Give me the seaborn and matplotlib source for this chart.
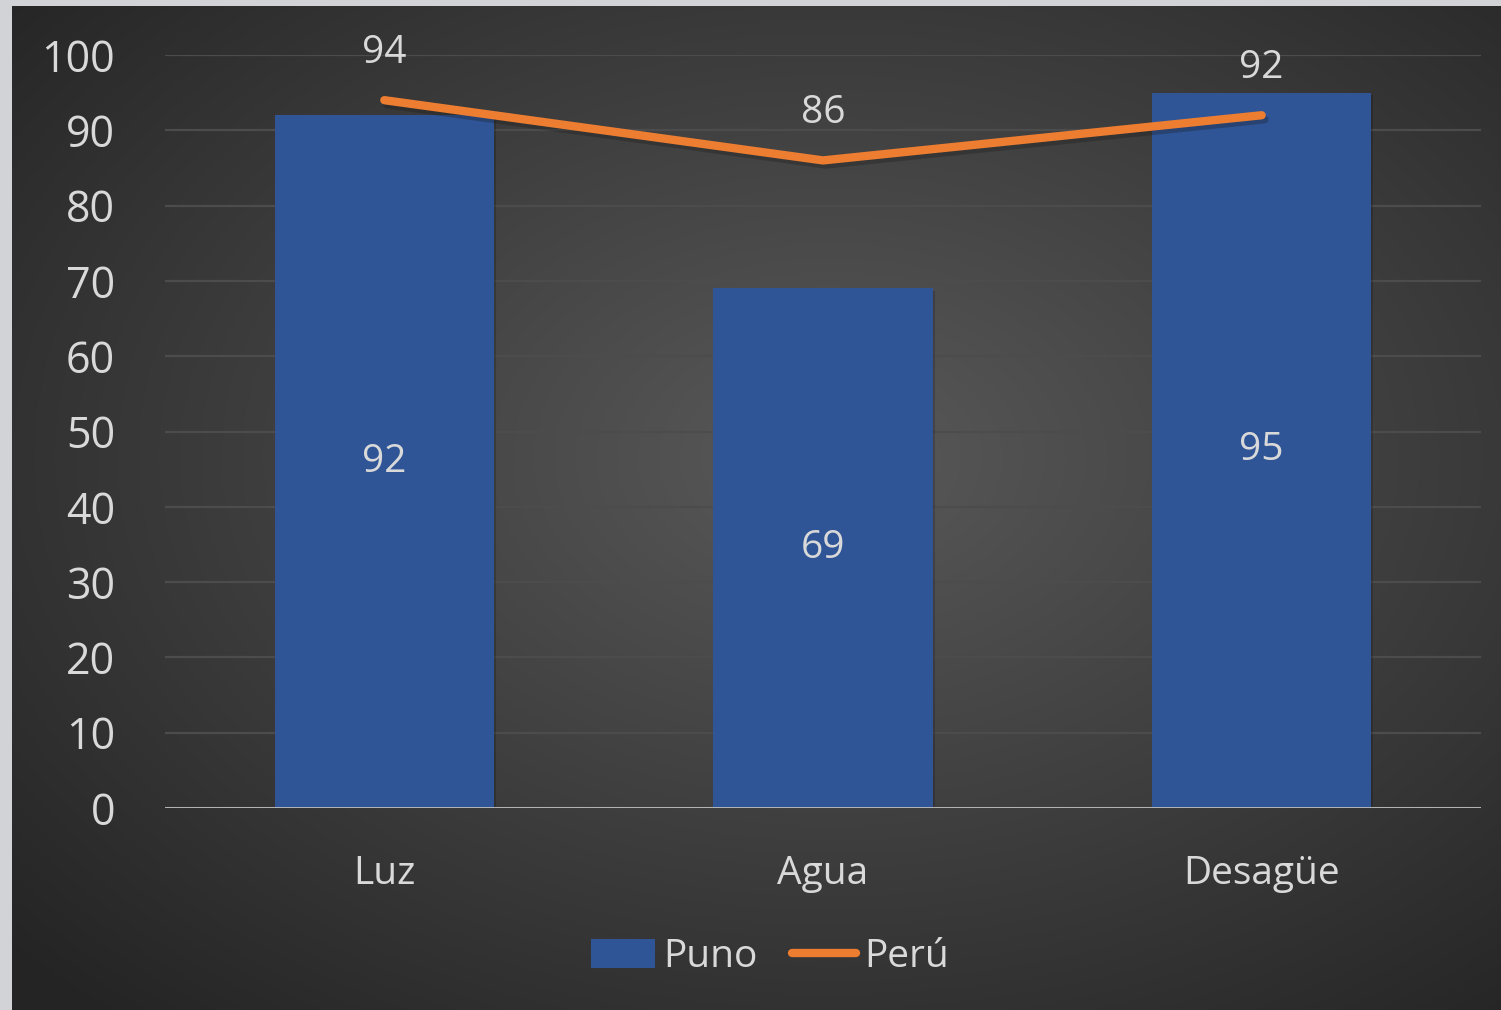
import numpy as np
import matplotlib
matplotlib.use("Agg")
import matplotlib.pyplot as plt
import matplotlib.patheffects as pe
from matplotlib.lines import Line2D
from matplotlib.patches import Patch
import seaborn as sns

categories = ["Luz", "Agua", "Desagüe"]
puno = [92, 69, 95]
peru = [94, 86, 92]
yticks = [0, 10, 20, 30, 40, 50, 60, 70, 80, 90, 100]

bar_color = "#2F5597"
line_color = "#ED7D31"
text_color = "#D9D9D9"

sns.set_theme(style="dark")
plt.rcParams["font.family"] = ["Open Sans", "DejaVu Sans"]

fig = plt.figure(figsize=(15.01, 10.10), dpi=100)
fig.patch.set_facecolor("#D2D3D7")

# radial gradient background panel
bg = fig.add_axes([12 / 1501, 0, 1 - 12 / 1501, 1 - 6 / 1010])
yy, xx = np.mgrid[0:1:400j, 0:1:600j]
r = np.sqrt(((xx - 0.55) / 0.75) ** 2 + ((yy - 0.45) / 0.75) ** 2)
shade = np.clip(0.35 - 0.21 * r, 0.145, 0.35)
bg.imshow(np.dstack([shade, shade, shade]), aspect="auto", extent=[0, 1, 0, 1], origin="upper")
bg.set_axis_off()

ax = fig.add_axes([165 / 1501, 0.2, (1481 - 165) / 1501, 1 - 55 / 1010 - 0.2])
ax.set_facecolor("none")

sns.barplot(x=categories, y=puno, color=bar_color, width=0.5, saturation=1,
            edgecolor="none", linewidth=0, ax=ax, zorder=2)
for p in ax.patches:
    p.set_path_effects([pe.SimplePatchShadow(offset=(1.5, -1.5), shadow_rgbFace="black", alpha=0.18), pe.Normal()])

x_pos = np.arange(len(categories))
sns.lineplot(x=x_pos, y=peru, color=line_color, lw=6, ax=ax, zorder=3,
             path_effects=[pe.SimpleLineShadow(offset=(2, -3), alpha=0.3), pe.Normal()])
for ln in ax.lines:
    ln.set_solid_capstyle("round")
    ln.set_solid_joinstyle("round")

ax.set_xlim(-0.5, 2.5)
ax.set_ylim(0, 100)
ax.set_yticks(yticks)
ax.grid(axis="y", color="#4C4C4C", lw=1.6, zorder=0)
ax.grid(axis="x", visible=False)
ax.axhline(0, color="#BFBFBF", lw=2, zorder=4)
for s in ax.spines.values():
    s.set_visible(False)

ax.tick_params(axis="y", colors=text_color, labelsize=31, length=0, pad=36)
ax.tick_params(axis="x", colors=text_color, labelsize=28, length=0, pad=34)
for lab in ax.get_yticklabels():
    lab.set_horizontalalignment("right")

for i, v in enumerate(puno):
    ax.text(i, v / 2, str(v), ha="center", va="center", color=text_color, fontsize=28, zorder=5)
for i, v in enumerate(peru):
    ax.annotate(str(v), (i, v), xytext=(0, 34), textcoords="offset points",
                ha="center", va="center", color=text_color, fontsize=28, zorder=5)

handles = [Patch(facecolor=bar_color, edgecolor="none", label="Puno"),
           Line2D([0], [0], color=line_color, lw=6, solid_capstyle="round", label="Perú")]
leg = fig.legend(handles=handles, loc="center", bbox_to_anchor=(770 / 1501, 1 - 957 / 1010),
                 ncol=2, frameon=False, fontsize=28, labelcolor=text_color,
                 handlelength=1.65, handleheight=0.8, handletextpad=0.2, columnspacing=0.9)

fig.savefig("out.png", dpi=100, facecolor=fig.get_facecolor())
